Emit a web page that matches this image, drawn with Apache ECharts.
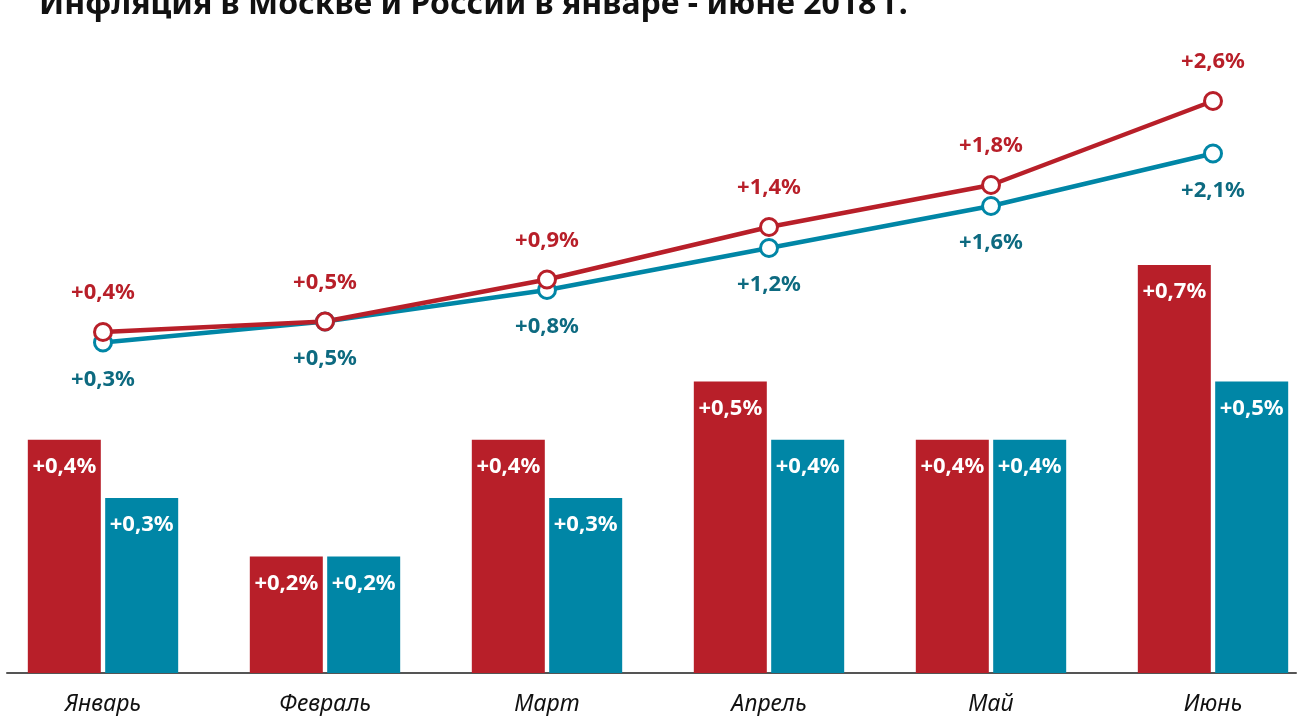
<!DOCTYPE html>
<html>
<head>
    <meta charset="UTF-8">
    <title>Инфляция</title>
    <script src="https://cdn.jsdelivr.net/npm/echarts@6/dist/echarts.min.js"></script>
    <style>
        *{margin:0;padding:0}
        html,body{width:100%;height:100%;background:#fff}
        #main{width:1298px;height:716px}
    </style>
</head>
<body>
    <div id="main"></div>
    <script type="text/javascript">
        // месяцы
        var months = ['Январь', 'Февраль', 'Март', 'Апрель', 'Май', 'Июнь'];
        // помесячная инфляция, %
        var moscowMonthly = [0.4, 0.2, 0.4, 0.5, 0.4, 0.7];
        var russiaMonthly = [0.3, 0.2, 0.3, 0.4, 0.4, 0.5];
        // накопленная инфляция с начала года, %
        var moscowTotal = [0.4, 0.5, 0.9, 1.4, 1.8, 2.6];
        var russiaTotal = [0.3, 0.5, 0.8, 1.2, 1.6, 2.1];

        var RED = '#b81f29';
        var TEAL = '#0086a6';
        var FONT = '"Noto Sans", "DejaVu Sans", sans-serif';

        function pct(p) {
            return '+' + p.value.toFixed(1).replace('.', ',') + '%';
        }

        var myChart = echarts.init(document.getElementById('main'));

        var barLabel = {
            show: true,
            position: 'insideTop',
            distance: 16,
            color: '#fff',
            fontFamily: FONT,
            fontWeight: 'bold',
            fontSize: 22,
            formatter: pct
        };

        option = {
            animation: false,
            title: {
                text: 'Инфляция в Москве и России в январе - июне 2018 г.',
                left: 34,
                top: -16,
                textStyle: {fontFamily: FONT, fontWeight: 'bold', fontSize: 32, color: '#111'}
            },
            grid: [
                // столбики (сетка шире холста, как в оригинале)
                {left: -8, right: -26, top: 90, bottom: 43, outerBoundsMode: 'none'},
                // линии
                {left: -8, right: -26, top: 59, bottom: 342, outerBoundsMode: 'none'},
                // только линия оси
                {left: 7, right: 2, top: 90, bottom: 43, outerBoundsMode: 'none'}
            ],
            xAxis: [
                {
                    type: 'category', gridIndex: 0, data: months,
                    axisLine: {show: false},
                    axisTick: {show: false},
                    axisLabel: {
                        margin: 20, color: '#111', fontFamily: FONT,
                        fontStyle: 'italic', fontSize: 23
                    }
                },
                {
                    type: 'category', gridIndex: 1, data: months,
                    axisLine: {show: false}, axisTick: {show: false}, axisLabel: {show: false}
                },
                {
                    type: 'category', gridIndex: 2, data: months,
                    axisLine: {lineStyle: {color: '#555', width: 2}},
                    axisTick: {show: false}, axisLabel: {show: false}
                }
            ],
            yAxis: [
                {type: 'value', gridIndex: 0, min: 0, max: 1, show: false, splitLine: {show: false}},
                {type: 'value', gridIndex: 1, min: 0, max: 3, show: false, splitLine: {show: false}},
                {type: 'value', gridIndex: 2, min: 0, max: 1, show: false, splitLine: {show: false}}
            ],
            series: [
                {
                    name: 'Москва', type: 'bar', xAxisIndex: 0, yAxisIndex: 0,
                    data: moscowMonthly, barWidth: 73, barGap: '6%',
                    itemStyle: {color: RED}, label: barLabel
                },
                {
                    name: 'Россия', type: 'bar', xAxisIndex: 0, yAxisIndex: 0,
                    data: russiaMonthly, barWidth: 73, barGap: '6%',
                    itemStyle: {color: TEAL}, label: barLabel
                },
                {
                    name: 'Россия, с начала года', type: 'line', xAxisIndex: 1, yAxisIndex: 1,
                    data: russiaTotal,
                    symbol: 'circle', symbolSize: 17,
                    lineStyle: {color: TEAL, width: 4.5},
                    itemStyle: {color: '#fff', borderColor: TEAL, borderWidth: 3},
                    label: {
                        show: true, position: 'bottom', distance: 16,
                        color: '#0d6a80', fontFamily: FONT, fontWeight: 'bold', fontSize: 22,
                        formatter: pct
                    }
                },
                {
                    name: 'Москва, с начала года', type: 'line', xAxisIndex: 1, yAxisIndex: 1,
                    data: moscowTotal,
                    symbol: 'circle', symbolSize: 17,
                    lineStyle: {color: RED, width: 4.5},
                    itemStyle: {color: '#fff', borderColor: RED, borderWidth: 3},
                    label: {
                        show: true, position: 'top', distance: 18,
                        color: RED, fontFamily: FONT, fontWeight: 'bold', fontSize: 22,
                        formatter: pct
                    }
                }
            ]
        };
        myChart.setOption(option);
    </script>
</body>
</html>
